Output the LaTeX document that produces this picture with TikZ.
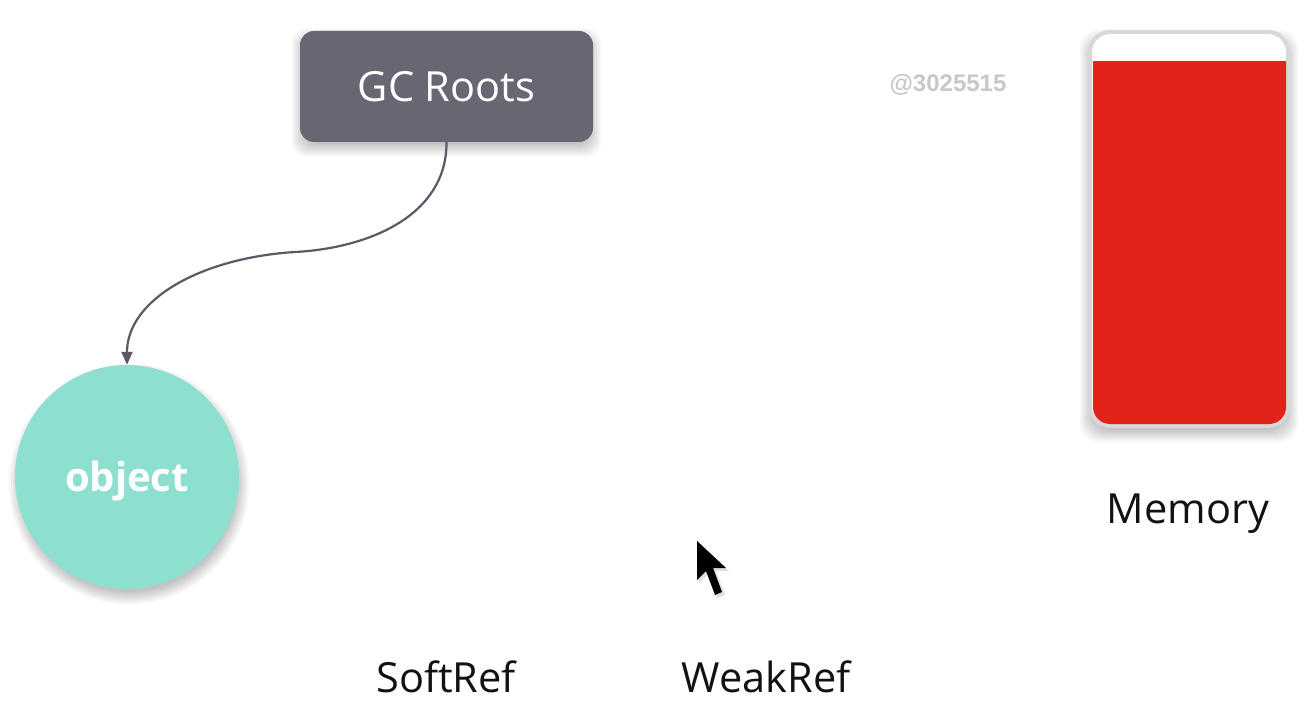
\documentclass[tikz,border=0pt]{standalone}
\usepackage{fontspec}
\setmainfont{Open Sans}
\newfontfamily\wmfont{Liberation Sans}
\usetikzlibrary{arrows.meta}
\definecolor{gcfill}{HTML}{6A6573}
\definecolor{conncol}{HTML}{5C5866}
\definecolor{objfill}{HTML}{8DDFD0}
\definecolor{memred}{HTML}{E1231A}
\definecolor{memborder}{HTML}{D8D8DA}
\definecolor{wmgray}{HTML}{C8C8C8}
\tikzset{
  rootbox/.style={rectangle, rounded corners=14pt, fill=gcfill, text=white,
    minimum width=293pt, minimum height=111pt, inner sep=0pt,
    font=\fontsize{41.5}{50}\selectfont},
  objnode/.style={circle, fill=objfill, text=white, minimum size=224pt, inner sep=0pt,
    font=\bfseries\fontsize{40}{48}\selectfont},
  conn/.style={draw=conncol, line width=2.2pt, -{Triangle[length=13pt,width=11pt]}},
  lbl/.style={text=black!93, inner sep=0pt, font=\fontsize{41.5}{50}\selectfont},
  wm/.style={text=wmgray, inner sep=0pt, font=\wmfont\bfseries\fontsize{24}{28}\selectfont},
  softshade/.style={fill=black, opacity=0.035},
}
\begin{document}
\begin{tikzpicture}[x=1pt,y=-1pt]
\useasboundingbox (0,0) rectangle (1314,714);
\fill[white] (0,0) rectangle (1314,714);

% soft shadows
\foreach \r in {-4,-2,...,8} {
  \fill[softshade, rounded corners=14pt] (300-\r,37-\r) rectangle (593+\r,148+\r);
  \fill[softshade] (129,484) circle[radius=112+\r];
  \fill[softshade, rounded corners=20pt] (1088-\r,38-\r) rectangle (1290+\r,434+\r);
}

% GC Roots
\node[rootbox] (gc) at (446.5,86.5) {GC Roots};

% object
\node[objnode] (obj) at (127,477) {};
\node[text=white, inner sep=0pt, font=\bfseries\fontsize{40}{48}\selectfont] (objtext) at (127,481) {object};

% connector
\draw[conn] (gc.south) .. controls (447,215) and (370,248) .. (295,252)
  .. controls (200,258) and (127,300) .. (obj.north);

% Memory
\draw[line width=4pt, draw=memborder, fill=white, rounded corners=20pt]
  (1090,32) rectangle (1288,426);
\begin{scope}
  \clip (1092,62) rectangle (1287,430);
  \fill[memred, rounded corners=17pt] (1093,30) rectangle (1286,424);
\end{scope}
\node[lbl] (memlabel) at (1188,514) {Memory};

% watermark
\node[wm] (wmark) at (948,85) {@3025515};

% references
\node[lbl] (soft) at (446,677) {SoftRef};
\node[lbl] (weak) at (766,677) {WeakRef};

% mouse cursor
\fill[black!12] (699,543) -- (699,583) -- (708,574) -- (717,598) -- (725,595) -- (716,571) -- (729,571) -- cycle;
\fill[black] (697,541) -- (697,580) -- (706,571) -- (715,595) -- (722,592) -- (713,568) -- (726,568) -- cycle;
\end{tikzpicture}
\end{document}
